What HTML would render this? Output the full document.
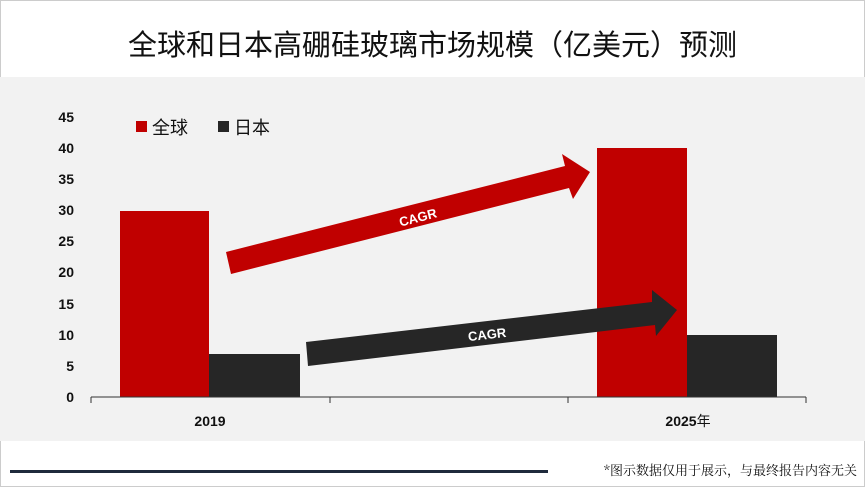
<!DOCTYPE html>
<html><head><meta charset="utf-8"><style>
body{margin:0;width:865px;height:487px;overflow:hidden;background:#fff;font-family:"Liberation Sans","Noto Sans CJK SC",sans-serif}
</style></head><body>
<svg width="865" height="487" viewBox="0 0 865 487" xmlns="http://www.w3.org/2000/svg">
<rect x="0" y="0" width="865" height="487" fill="#fff"/>
<rect x="0.5" y="0.5" width="864" height="486" fill="none" stroke="#ccc" stroke-width="1"/>
<text x="128" y="55" font-family="'Noto Sans CJK SC',sans-serif" font-size="29" fill="#111" textLength="609" lengthAdjust="spacingAndGlyphs">全球和日本高硼硅玻璃市场规模（亿美元）预测</text>
<rect x="0" y="77" width="865" height="364" fill="#f2f2f2"/>
<g font-family="'Liberation Sans',sans-serif" font-size="14" font-weight="bold" fill="#111" text-anchor="end">
<text x="74" y="122">45</text><text x="74" y="153">40</text><text x="74" y="184">35</text><text x="74" y="215">30</text><text x="74" y="246">25</text><text x="74" y="277">20</text><text x="74" y="309">15</text><text x="74" y="340">10</text><text x="74" y="371">5</text><text x="74" y="402">0</text>
</g>
<rect x="136" y="121" width="11" height="11" fill="#c00000"/>
<text x="152" y="134" font-size="18" fill="#111" font-family="'Noto Sans CJK SC',sans-serif">全球</text>
<rect x="218" y="121" width="11" height="11" fill="#262626"/>
<text x="234" y="134" font-size="18" fill="#111" font-family="'Noto Sans CJK SC',sans-serif">日本</text>
<rect x="120" y="211" width="89" height="186" fill="#c00000"/>
<rect x="209" y="354" width="91" height="43" fill="#262626"/>
<rect x="597" y="148" width="90" height="249" fill="#c00000"/>
<rect x="687" y="335" width="90" height="62" fill="#262626"/>
<path d="M91 397H806M91 397v6M330 397v6M568 397v6M806 397v6" stroke="#333" stroke-width="1" fill="none"/>
<text x="210" y="426" font-size="14" font-weight="bold" text-anchor="middle" fill="#111">2019</text>
<text x="688" y="426" font-size="14" font-weight="bold" text-anchor="middle" fill="#111">2025<tspan font-weight="normal" font-family="'Noto Sans CJK SC',sans-serif">年</tspan></text>
<polygon points="226,252 565,166 562,154 590,172 573,199 569,188 231,274" fill="#c00000"/>
<text x="418" y="222" font-size="13" font-weight="bold" fill="#fff" text-anchor="middle" transform="rotate(-14.5 418 218)">CAGR</text>
<polygon points="306,342 652,302 652,290 677,310 656,336 655,325 308,366" fill="#262626"/>
<text x="487" y="339" font-size="13" font-weight="bold" fill="#fff" text-anchor="middle" transform="rotate(-6.5 487 334)">CAGR</text>
<rect x="10" y="470" width="538" height="3" fill="#1f2a3c"/>
<text x="857" y="475" font-size="13" text-anchor="end" fill="#111" font-family="'Noto Serif CJK SC',serif">*图示数据仅用于展示，与最终报告内容无关</text>
</svg>
</body></html>
